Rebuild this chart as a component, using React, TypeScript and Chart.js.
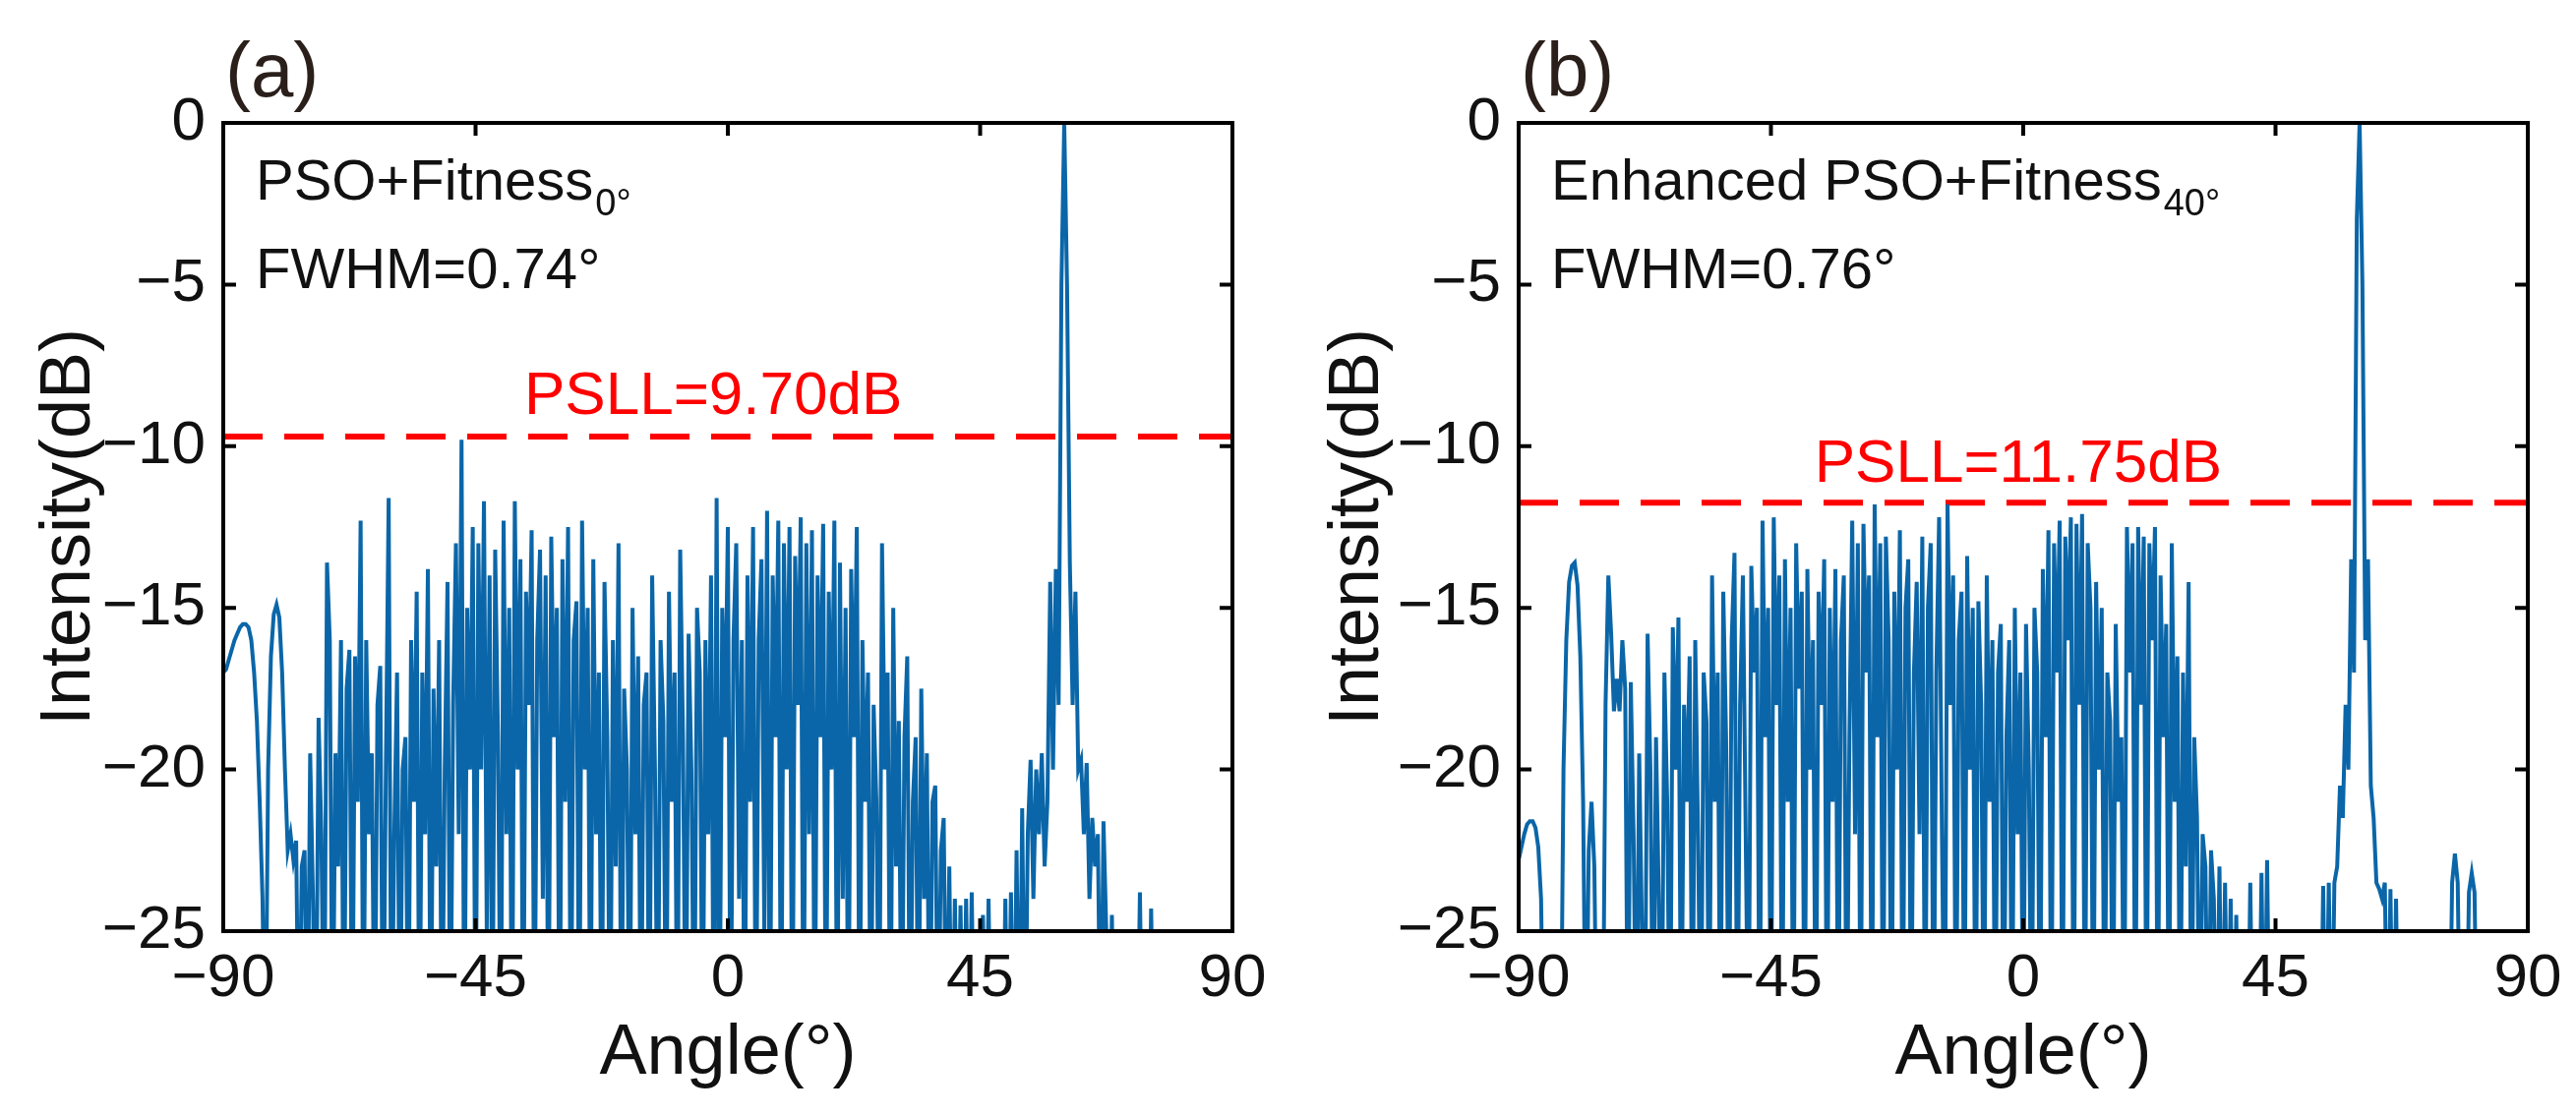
import React, { useEffect, useRef } from "react";
import { Chart, registerables } from "chart.js";
Chart.register(...registerables);

const xTicks = [-90, -45, 0, 45, 90];
const yTicks = [0, -5, -10, -15, -20, -25];

// Panel (a) pattern: [angle, dB]
const patternA: [number, number][] = [
[-90,-17],[-89.5,-16.9],[-89,-16.6],[-88.5,-16.3],[-88,-16],[-87.5,-15.8],[-87,-15.6],[-86.5,-15.5],[-86,-15.5],[-85.5,-15.6],[-85,-16],[-84.5,-17],[-84,-18.5],[-83.5,-21],[-83,-24],[-82.5,-30],[-82,-20],[-81.5,-16.5],[-81,-15.2],[-80.5,-14.9],[-80,-15.3],[-79.5,-17],[-79,-20],[-78.5,-22.5],[-78,-22],[-77.5,-22.8],[-77,-22.2],
[-76.5,-30],[-76,-23],[-75.5,-22.5],[-75,-30],[-74.5,-19.5],[-74,-24],[-73.5,-30],[-73,-18.4],[-72.5,-22],[-72,-30],[-71.5,-13.6],[-71,-16],[-70.5,-30],[-70,-19.5],[-69.5,-23],[-69,-16],[-68.5,-30],[-68,-17.5],[-67.5,-16.3],[-67,-30],[-66.5,-16.5],[-66,-21],[-65.5,-12.3],[-65,-30],[-64.5,-16],[-64,-22],[-63.5,-19.5],[-63,-30],[-62.5,-18],[-62,-16.8],[-61.5,-30],[-61,-20],[-60.5,-11.6],[-60,-30],[-59.5,-22],[-59,-17],[-58.5,-30],[-58,-20],[-57.5,-19],[-57,-30],[-56.5,-16],[-56,-21],[-55.5,-14.5],[-55,-30],[-54.5,-17],[-54,-22],[-53.5,-13.8],[-53,-30],[-52.5,-17.5],[-52,-23],[-51.5,-16],[-51,-30],[-50.5,-20],[-50,-14.2],[-49.5,-30],[-49,-18],[-48.5,-13],[-48,-22],[-47.5,-9.8],[-47,-30],[-46.5,-15],[-46,-20],[-45.5,-12.5],[-45,-30],
[-44.5,-13],[-44,-20],[-43.5,-11.7],[-43,-25],[-42.5,-14],[-42,-30],[-41.5,-13.2],[-41,-19],[-40.5,-30],[-40,-12.3],[-39.5,-22],[-39,-15],[-38.5,-30],[-38,-11.7],[-37.5,-20],[-37,-13.5],[-36.5,-30],[-36,-14.5],[-35.5,-18],[-35,-12.6],[-34.5,-30],[-34,-16],[-33.5,-13.2],[-33,-24],[-32.5,-14],[-32,-30],[-31.5,-12.8],[-31,-19],[-30.5,-15],[-30,-30],[-29.5,-13.5],[-29,-21],[-28.5,-12.5],[-28,-30],[-27.5,-16],[-27,-14.8],[-26.5,-30],[-26,-12.3],[-25.5,-20],[-25,-15],
[-24.5,-30],[-24,-13.5],[-23.5,-22],[-23,-17],[-22.5,-30],[-22,-14.2],[-21.5,-19],[-21,-30],[-20.5,-16],[-20,-23],[-19.5,-13],[-19,-30],[-18.5,-17.5],[-18,-20],[-17.5,-30],[-17,-15],[-16.5,-22],[-16,-16.5],[-15.5,-30],[-15,-18],[-14.5,-17],[-14,-30],[-13.5,-14],[-13,-20],[-12.5,-30],[-12,-16],[-11.5,-18.5],[-11,-30],[-10.5,-14.5],[-10,-21],[-9.5,-17],[-9,-30],[-8.5,-13.2],[-8,-19],[-7.5,-30],[-7,-15.8],[-6.5,-20],[-6,-30],[-5.5,-15],[-5,-17],[-4.5,-30],[-4,-16],[-3.5,-22],[-3,-14],[-2.5,-30],[-2,-11.6],
[-1.5,-30],[-1,-15],[-0.5,-19],[0,-12.5],[0.5,-30],[1,-16],[1.5,-13],[2,-24],[2.5,-16],[3,-30],[3.5,-14],[4,-21],[4.5,-12.5],[5,-30],[5.5,-16],[6,-13.5],[6.5,-25],[7,-12],[7.5,-30],[8,-14],[8.5,-19],[9,-12.3],[9.5,-30],[10,-13],[10.5,-20],[11,-12.5],[11.5,-30],[12,-13.4],[12.5,-18],[13,-12.2],[13.5,-30],[14,-13],[14.5,-22],[15,-12.6],[15.5,-30],[16,-14],[16.5,-19],[17,-12.4],[17.5,-30],[18,-14.5],[18.5,-20],[19,-12.3],[19.5,-30],[20,-13.6],[20.5,-24],[21,-15],[21.5,-30],[22,-13.8],[22.5,-19],[23,-12.5],[23.5,-30],[24,-16],
[24.5,-21],[25,-17],[25.5,-30],[26,-18],[26.5,-21],[27,-30],[27.5,-13],[28,-20],[28.5,-17],[29,-30],[29.5,-15],[30,-23],[30.5,-18.5],[31,-30],[31.5,-19],[32,-16.5],[32.5,-30],[33,-21],[33.5,-19],[34,-30],[34.5,-17.5],[35,-24],[35.5,-19.5],[36,-30],[36.5,-21],[37,-20.5],[37.5,-30],[38,-22.5],[38.5,-21.5],[39,-30],[39.5,-23],[40,-30],[40.5,-24],[41,-30],[41.5,-24.2],[42,-30],
[42.5,-24],[43,-30],[43.5,-23.8],[44,-30],[45.5,-24.5],[46,-30],[46.5,-24],[47,-30],[49,-30],[49.5,-24],[50,-30],[50.5,-23.8],[51,-30],[51.5,-22.5],[52,-30],
[52.5,-21.2],[53,-30],[53.5,-22],[54,-19.7],[54.5,-24],[55,-20],[55.5,-22],[56,-19.5],[56.5,-23],[57,-21],[57.5,-14.2],[58,-20],[58.5,-13.8],[59,-18],[59.5,-5],[60,0],[60.5,-5],[61,-13.6],[61.5,-18],[62,-14.5],[62.5,-20],[63,-19.7],[63.5,-22],[64,-19.8],[64.5,-24],[65,-21.5],[65.5,-23],[66,-22],[66.5,-30],[67,-21.6],[67.5,-25],[68,-30],[68.5,-24.5],[69,-30],
[73,-30],[73.5,-23.8],[74,-30],[75,-30],[75.5,-24.3],[76,-30],[90,-30]
];

// Panel (b) pattern: [angle, dB]
const patternB: [number, number][] = [
[-90,-22.8],[-89.5,-22.4],[-89,-22],[-88.5,-21.7],[-88,-21.6],[-87.5,-21.6],[-87,-21.8],[-86.5,-22.4],[-86,-24],[-85.5,-30],[-82.5,-30],[-82,-20],[-81.5,-16],[-81,-14.2],[-80.5,-13.7],[-80,-13.6],[-79.5,-14.3],[-79,-16.5],[-78.5,-21],[-78,-30],[-77.5,-22.5],[-77,-21],[-76.5,-23],[-76,-30],[-75,-30],
[-74.5,-18],[-74,-14],[-73.5,-15.8],[-73,-18.2],[-72.5,-17.2],[-72,-18.2],[-71.5,-16],[-71,-17.5],[-70.5,-30],[-70,-17.3],[-69.5,-22],[-69,-30],[-68.5,-19.5],[-68,-25],[-67.5,-30],[-67,-15.8],[-66.5,-20],[-66,-30],[-65.5,-19],[-65,-24],[-64.5,-30],[-64,-17],[-63.5,-21],[-63,-30],[-62.5,-15.6],[-62,-20],[-61.5,-15.3],[-61,-30],[-60.5,-18],[-60,-21],[-59.5,-16.5],[-59,-30],[-58.5,-16],[-58,-22],[-57.5,-30],[-57,-17],[-56.5,-18.5],[-56,-30],[-55.5,-14],[-55,-21],[-54.5,-17],[-54,-30],[-53.5,-14.5],[-53,-19],[-52.5,-30],[-52,-16],[-51.5,-13.3],[-51,-30],[-50.5,-18],[-50,-14],[-49.5,-22],[-49,-30],[-48.5,-13.7],[-48,-17],[-47.5,-15],[-47,-30],[-46.5,-12.3],[-46,-19],[-45.5,-15],[-45,-30],
[-44.5,-12.2],[-44,-18],[-43.5,-14],[-43,-30],[-42.5,-13.5],[-42,-21],[-41.5,-15],[-41,-30],[-40.5,-13],[-40,-17.5],[-39.5,-14.5],[-39,-30],[-38.5,-13.8],[-38,-20],[-37.5,-16],[-37,-30],[-36.5,-14.5],[-36,-18],[-35.5,-13.5],[-35,-30],[-34.5,-15],[-34,-21],[-33.5,-13.8],[-33,-30],[-32.5,-16],[-32,-14],[-31.5,-30],[-31,-19],[-30.5,-12.3],[-30,-22],[-29.5,-13],[-29,-30],[-28.5,-12.4],[-28,-17],[-27.5,-14],[-27,-30],[-26.5,-11.8],[-26,-19],[-25.5,-13],[-25,-30],[-24.5,-12.8],[-24,-16],[-23.5,-30],[-23,-14.5],[-22.5,-20],[-22,-12.6],[-21.5,-30],[-21,-15],[-20.5,-13.5],[-20,-30],[-19.5,-17],[-19,-14.2],[-18.5,-22],[-18,-12.8],[-17.5,-30],[-17,-15],[-16.5,-13],[-16,-30],[-15.5,-17],[-15,-12.2],[-14.5,-22],[-14,-30],[-13.5,-11.8],[-13,-18],[-12.5,-14],[-12,-30],[-11.5,-16],[-11,-14.5],[-10.5,-30],[-10,-13.4],[-9.5,-20],[-9,-15],[-8.5,-30],[-8,-14.8],[-7.5,-18],[-7,-30],[-6.5,-14],[-6,-21],[-5.5,-16],[-5,-30],[-4.5,-17],[-4,-15.5],[-3.5,-30],[-3,-19],[-2.5,-16],[-2,-30],[-1.5,-15],[-1,-22],[-0.5,-17],[0,-30],
[0.5,-15.5],[1,-20],[1.5,-30],[2,-15],[2.5,-17],[3,-30],[3.5,-13.8],[4,-19],[4.5,-12.6],[5,-30],[5.5,-13],[6,-17],[6.5,-12.3],[7,-30],[7.5,-12.8],[8,-16],[8.5,-12.2],[9,-30],[9.5,-12.4],[10,-18],[10.5,-12.1],[11,-30],[11.5,-13],[12,-15],[12.5,-30],[13,-14.2],[13.5,-20],[14,-15],[14.5,-30],[15,-17],[15.5,-18.5],[16,-30],[16.5,-15.5],[17,-21],[17.5,-19],[18,-30],[18.5,-12.5],[19,-17],[19.5,-13],[20,-30],[20.5,-12.5],[21,-18],[21.5,-12.8],[22,-30],[22.5,-13],[23,-16],[23.5,-12.5],[24,-30],[24.5,-14],[25,-19],[25.5,-15.5],[26,-30],[26.5,-13],[27,-21],[27.5,-16.5],[28,-30],[28.5,-17],[29,-23],[29.5,-14.2],[30,-30],[30.5,-19],[31,-21.5],[31.5,-30],[32,-22],[32.5,-23],[33,-30],[33.5,-22.5],[34,-24],[34.5,-30],[35,-23],[35.5,-30],[36,-23.5],[36.5,-30],[37,-24],[37.5,-30],[38,-24.5],[38.5,-30],
[40,-30],[40.5,-23.5],[41,-30],[42,-30],[42.5,-23.2],[43,-30],[43.5,-22.8],[44,-30],[53,-30],[53.5,-23.6],[54,-30],[54.5,-23.5],[55,-30],[55.5,-23.5],[56,-23],[56.5,-20.5],[57,-21.5],[57.5,-18],[58,-20],[58.5,-13.5],[59,-17],[59.5,-3],[60,0],[60.5,-5],[61,-16],[61.5,-13.5],[62,-20.5],[62.5,-21.5],[63,-23.5],[63.5,-23.7],[64,-24],[64.5,-23.5],[65,-30],[65.5,-23.7],[66,-30],[66.5,-24],[67,-30],
[76,-30],[76.5,-23.5],[77,-22.6],[77.5,-23.5],[78,-30],[79,-30],[79.5,-23.8],[80,-23.2],[80.5,-23.8],[81,-30],[90,-30]
];

const psllA = -9.7;
const psllB = -11.75;

const BLUE = "#0a66a8";
const FONT = "'Liberation Sans', Arial, sans-serif";

type PanelProps = {
  data: [number, number][];
  psll: number;
  label: string;
  title: string;
  sub: string;
  fwhm: string;
  psllText: string;
  psllX: number;
  psllY: number;
  padRight: number;
  padLeft: number;
  width: number;
};

function Panel(p: PanelProps) {
  const ref = useRef<HTMLCanvasElement>(null);
  useEffect(() => {
    const deco = {
      id: "deco",
      afterDraw(chart: any) {
        const ctx = chart.ctx;
        const a = chart.chartArea;
        const xs = chart.scales.x, ys = chart.scales.y;
        ctx.save();
        ctx.strokeStyle = "#000";
        ctx.lineWidth = 4;
        ctx.strokeRect(a.left, a.top, a.right - a.left, a.bottom - a.top);
        const tl = 13;
        ctx.beginPath();
        for (const v of xTicks) {
          const x = xs.getPixelForValue(v);
          ctx.moveTo(x, a.bottom); ctx.lineTo(x, a.bottom - tl);
          ctx.moveTo(x, a.top); ctx.lineTo(x, a.top + tl);
        }
        for (const v of yTicks) {
          const y = ys.getPixelForValue(v);
          ctx.moveTo(a.left, y); ctx.lineTo(a.left + tl, y);
          ctx.moveTo(a.right, y); ctx.lineTo(a.right - tl, y);
        }
        ctx.stroke();
        ctx.fillStyle = "#111";
        ctx.textBaseline = "alphabetic";
        ctx.textAlign = "left";
        ctx.font = `58px ${FONT}`;
        ctx.fillText(p.title, a.left + 33, a.top + 78);
        const w = ctx.measureText(p.title).width;
        ctx.font = `38px ${FONT}`;
        ctx.fillText(p.sub, a.left + 33 + w + 2, a.top + 94);
        ctx.font = `58px ${FONT}`;
        ctx.fillText(p.fwhm, a.left + 33, a.top + 168);
        ctx.fillStyle = "#ff0000";
        ctx.textAlign = "center";
        ctx.font = `62px ${FONT}`;
        ctx.fillText(p.psllText, xs.getPixelForValue(p.psllX), ys.getPixelForValue(p.psllY));
        ctx.fillStyle = "#111";
        ctx.font = `72px ${FONT}`;
        ctx.fillText("Angle(°)", (a.left + a.right) / 2, 1092);
        ctx.save();
        ctx.translate(66, (a.top + a.bottom) / 2);
        ctx.rotate(-Math.PI / 2);
        ctx.fillText("Intensity(dB)", 0, 25);
        ctx.restore();
        ctx.textAlign = "left";
        ctx.font = `78px ${FONT}`;
        ctx.fillStyle = "#2a1f1a";
        ctx.fillText(p.label, a.left + 2, 98);
        ctx.restore();
      },
    };
    const chart = new Chart(ref.current!, {
      type: "line",
      data: {
        datasets: [
          {
            data: p.data.map(([x, y]) => ({ x, y })),
            borderColor: BLUE,
            borderWidth: 4,
            pointRadius: 0,
            tension: 0,
          },
          {
            data: [{ x: -90, y: p.psll }, { x: 90, y: p.psll }],
            borderColor: "#ff0000",
            borderWidth: 6,
            borderDash: [40, 22],
            pointRadius: 0,
          },
        ],
      },
      options: {
        animation: false,
        responsive: false,
        maintainAspectRatio: false,
        layout: { padding: { top: 125, right: p.padRight, left: 0, bottom: 0 } },
        plugins: { legend: { display: false }, tooltip: { enabled: false } },
        scales: {
          x: {
            type: "linear",
            min: -90,
            max: 90,
            afterBuildTicks: (s: any) => { s.ticks = xTicks.map((v) => ({ value: v })); },
            afterFit: (s: any) => { s.height = 1135 - 947; },
            grid: { display: false, drawTicks: false },
            border: { display: false },
            ticks: {
              color: "#111",
              font: { size: 62, family: FONT },
              padding: 12,
              maxRotation: 0,
              callback: (v: any) => String(v).replace("-", "\u2212"),
            },
          },
          y: {
            type: "linear",
            min: -25,
            max: 0,
            afterBuildTicks: (s: any) => { s.ticks = yTicks.map((v) => ({ value: v })); },
            afterFit: (s: any) => { s.width = p.padLeft; },
            grid: { display: false, drawTicks: false },
            border: { display: false },
            ticks: {
              color: "#111",
              font: { size: 62, family: FONT },
              padding: 18,
              callback: (v: any) => String(v).replace("-", "\u2212"),
            },
          },
        },
      } as any,
      plugins: [deco],
    });
    return () => chart.destroy();
  }, []);
  return <canvas ref={ref} width={p.width} height={1135} style={{ display: "block", width: p.width, height: 1135 }} />;
}

export default function App() {
  return (
    <div style={{ position: "absolute", left: 0, top: 0, width: 2619, height: 1135, display: "flex", background: "#fff" }}>
      <Panel data={patternA} psll={psllA} label="(a)" title="PSO+Fitness" sub="0°" fwhm="FWHM=0.74°"
        psllText="PSLL=9.70dB" psllX={-2.6} psllY={-9.0} padLeft={227} padRight={57} width={1310} />
      <Panel data={patternB} psll={psllB} label="(b)" title="Enhanced PSO+Fitness" sub="40°" fwhm="FWHM=0.76°"
        psllText="PSLL=11.75dB" psllX={-0.9} psllY={-11.1} padLeft={234} padRight={49} width={1309} />
    </div>
  );
}
